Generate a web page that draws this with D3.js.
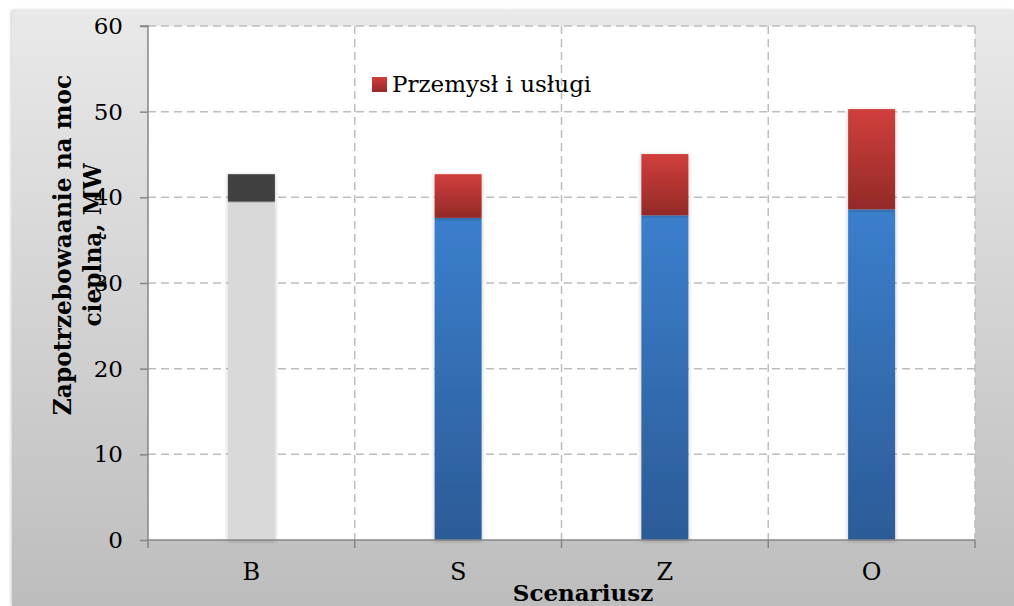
<!DOCTYPE html>
<html><head><meta charset="utf-8">
<script src="https://cdnjs.cloudflare.com/ajax/libs/d3/7.8.5/d3.min.js"></script>
<style>body{margin:0;background:#fff}svg{display:block}</style>
</head><body>
<svg id="c" width="1014" height="606"></svg>
<script>
const categories = ["B", "S", "Z", "O"];
const baseValues = [39.5, 37.6, 37.9, 38.6];
const industryValues = [3.2, 5.1, 7.15, 11.7];
const yTicks = [0, 10, 20, 30, 40, 50, 60];
const legendLabel = "Przemysł i usługi";
const xTitle = "Scenariusz";
const yTitleLines = ["Zapotrzebowaanie na moc", "cieplną, MW"];

const svg = d3.select("#c");
const W = 1014, H = 606;
const m = {left: 148, right: 975, top: 26, bottom: 540};
const font = "Georgia, 'DejaVu Serif', serif";

const defs = svg.append("defs");
const bg = defs.append("linearGradient").attr("id","bg").attr("x1",0).attr("x2",0).attr("y1",0).attr("y2",1);
bg.append("stop").attr("offset","0%").attr("stop-color","#e9e9e9");
bg.append("stop").attr("offset","100%").attr("stop-color","#bdbdbd");
const gb = defs.append("linearGradient").attr("id","gblue").attr("x1",0).attr("x2",0).attr("y1",0).attr("y2",1);
gb.append("stop").attr("offset","0%").attr("stop-color","#3b7fcd");
gb.append("stop").attr("offset","100%").attr("stop-color","#2c5b97");
const gr = defs.append("linearGradient").attr("id","gred").attr("x1",0).attr("x2",0).attr("y1",0).attr("y2",1);
gr.append("stop").attr("offset","0%").attr("stop-color","#d13f3c");
gr.append("stop").attr("offset","100%").attr("stop-color","#932a28");
const f = defs.append("filter").attr("id","sh").attr("x","-20%").attr("y","-5%").attr("width","140%").attr("height","110%");
f.append("feDropShadow").attr("dx",0).attr("dy",1).attr("stdDeviation",2).attr("flood-color","#000").attr("flood-opacity",0.25);
const fl = defs.append("filter").attr("id","shl").attr("x","-5%").attr("y","-5%").attr("width","110%").attr("height","110%");
fl.append("feDropShadow").attr("dx",-1).attr("dy",0).attr("stdDeviation",1.5).attr("flood-color","#000").attr("flood-opacity",0.2);

// background frame
svg.append("rect").attr("x",12).attr("y",10).attr("width",W-12).attr("height",H-10).attr("fill","url(#bg)").attr("filter","url(#shl)");
svg.append("rect").attr("x",m.left).attr("y",m.top).attr("width",m.right-m.left).attr("height",m.bottom-m.top).attr("fill","#fff");

const x = d3.scaleBand().domain(categories).range([m.left, m.right]).paddingInner(0).paddingOuter(0);
const y = d3.scaleLinear().domain([0, 60]).range([m.bottom, m.top]);

// gridlines
svg.append("g").selectAll("line.h").data(yTicks.filter(d=>d>0)).join("line")
  .attr("x1", m.left).attr("x2", m.right).attr("y1", d=>y(d)).attr("y2", d=>y(d))
  .attr("stroke","#bdbdbd").attr("stroke-width",1.5).attr("stroke-dasharray","8,5");
const bounds = categories.map(c => x(c) + x.bandwidth());
svg.append("g").selectAll("line.v").data(bounds).join("line")
  .attr("x1", d=>d).attr("x2", d=>d).attr("y1", m.top).attr("y2", m.bottom)
  .attr("stroke","#bdbdbd").attr("stroke-width",1.5).attr("stroke-dasharray","8,5");

// bars
const bw = 47;
const cx = c => x(c) + x.bandwidth()/2 - bw/2;
const g = svg.append("g");
categories.forEach((c,i) => {
  const isB = i === 0;
  g.append("rect").attr("x", cx(c)).attr("width", bw)
    .attr("y", y(baseValues[i])).attr("height", y(0) - y(baseValues[i]))
    .attr("fill", isB ? "#d9d9d9" : "url(#gblue)").attr("filter","url(#sh)");
  const top = baseValues[i] + industryValues[i];
  g.append("rect").attr("x", cx(c)).attr("width", bw)
    .attr("y", y(top)).attr("height", y(baseValues[i]) - y(top))
    .attr("fill", isB ? "#404040" : "url(#gred)").attr("filter","url(#sh)");
});

// axes
const yAxis = d3.axisLeft(y).tickValues(yTicks).tickSize(8).tickPadding(17);
const ya = svg.append("g").attr("transform",`translate(${m.left},0)`).call(yAxis);
ya.select(".domain").attr("stroke","#868686").attr("stroke-width",1.5).attr("d",`M-8,${m.top}H0V${m.bottom}`);
ya.selectAll(".tick line").attr("stroke","#868686").attr("stroke-width",1.5);
ya.selectAll(".tick text").attr("font-family",font).attr("font-size",23).attr("fill","#000");

const xa = svg.append("g").attr("transform",`translate(0,${m.bottom})`);
xa.append("line").attr("x1",m.left).attr("x2",m.right).attr("stroke","#868686").attr("stroke-width",1.5);
xa.selectAll("line.t").data([m.left, ...bounds]).join("line").attr("x1",d=>d).attr("x2",d=>d).attr("y1",0).attr("y2",8)
  .attr("stroke","#868686").attr("stroke-width",1.5);
xa.selectAll("text").data(categories).join("text")
  .attr("x", d=>x(d)+x.bandwidth()/2).attr("y", 40).attr("text-anchor","middle")
  .attr("font-family",font).attr("font-size",24).attr("fill","#000").text(d=>d);

// axis titles
svg.append("text").attr("x",583).attr("y",601).attr("text-anchor","middle")
  .attr("font-family",font).attr("font-size",23).attr("font-weight","bold").text(xTitle);
const yt = svg.append("text").attr("transform","translate(0,245) rotate(-90)").attr("text-anchor","middle")
  .attr("font-family",font).attr("font-size",23.3).attr("font-weight","bold");
yt.selectAll("tspan").data(yTitleLines).join("tspan").attr("x",0).attr("y",(d,i)=>71+i*30).text(d=>d);

// legend
svg.append("rect").attr("x",372).attr("y",77).attr("width",15).attr("height",15).attr("fill","url(#gred)");
svg.append("text").attr("x",392).attr("y",92).attr("font-family",font).attr("font-size",23).attr("fill","#000").text(legendLabel);
</script>
</body></html>
